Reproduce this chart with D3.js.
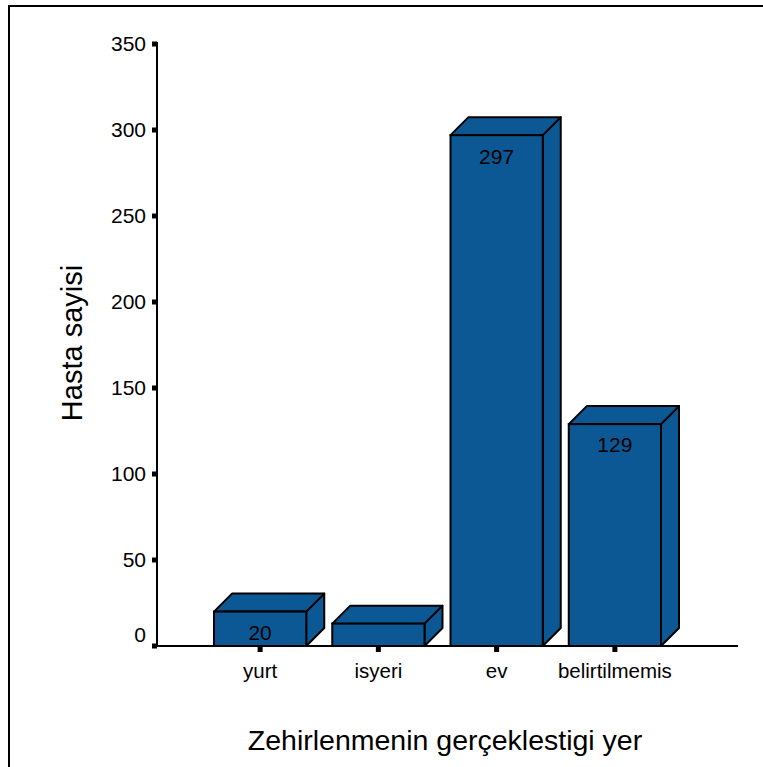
<!DOCTYPE html>
<html>
<head>
<meta charset="utf-8">
<script src="https://cdn.jsdelivr.net/npm/d3@7"></script>
<style>
  body { margin: 0; background: #fff; }
  svg { display: block; font-family: Arial, "Liberation Sans", sans-serif; }
</style>
</head>
<body>
<svg id="chart" width="763" height="767"></svg>
<script>
// Places where the poisoning occurred and patient counts
const categories = ["yurt", "isyeri", "ev", "belirtilmemis"];
const patients = [20, 13, 297, 129];
const shownValues = ["20", "", "297", "129"];
const yTicks = [0, 50, 100, 150, 200, 250, 300, 350];
const yTitle = "Hasta sayisi";
const xTitle = "Zehirlenmenin gerçeklestigi yer";

const svg = d3.select("#chart");
const barColor = "#0b5895";
const depth = 18;

// outer frame
svg.append("path")
  .attr("d", "M9,767 L9,6 L763,6")
  .attr("fill", "none").attr("stroke", "#000").attr("stroke-width", 2);

const y = d3.scaleLinear().domain([0, 350]).range([646, 44]);
const x = d3.scaleBand().domain(categories).range([201, 674])
  .paddingInner(0.22).paddingOuter(0.11);

// bars with a top and side face for depth
const bars = svg.append("g").selectAll("g").data(categories).join("g");
bars.each(function (c, i) {
  const g = d3.select(this);
  const x0 = x(c), x1 = x(c) + x.bandwidth();
  const yt = y(patients[i]), yb = y(0);
  g.append("path")
    .attr("d", `M${x1},${yb} L${x1 + depth},${yb - depth} L${x1 + depth},${yt - depth} L${x1},${yt} Z`)
    .attr("fill", barColor).attr("stroke", "#000").attr("stroke-width", 2).attr("stroke-linejoin", "round");
  g.append("path")
    .attr("d", `M${x0},${yt} L${x0 + depth},${yt - depth} L${x1 + depth},${yt - depth} L${x1},${yt} Z`)
    .attr("fill", barColor).attr("stroke", "#000").attr("stroke-width", 2).attr("stroke-linejoin", "round");
  g.append("rect")
    .attr("x", x0).attr("y", yt).attr("width", x.bandwidth()).attr("height", yb - yt)
    .attr("fill", barColor).attr("stroke", "#000").attr("stroke-width", 2);
  if (shownValues[i]) {
    g.append("text")
      .attr("x", x0 + x.bandwidth() / 2).attr("y", yt + 21).attr("dy", "0.35em")
      .attr("text-anchor", "middle").attr("font-size", 21).attr("fill", "#000")
      .text(shownValues[i]);
  }
});

// y axis
const yAxis = svg.append("g");
yAxis.append("line").attr("x1", 157).attr("x2", 157).attr("y1", y(350) - 2).attr("y2", y(0) + 1)
  .attr("stroke", "#000").attr("stroke-width", 2);
yAxis.selectAll("rect.tick").data(yTicks).join("rect")
  .attr("x", 152).attr("y", d => y(d) - 2.5).attr("width", 5).attr("height", 5).attr("fill", "#000");
yAxis.selectAll("text").data(yTicks).join("text")
  .attr("x", 146).attr("y", d => y(d) + (d === 0 ? -11 : 0)).attr("dy", "0.35em")
  .attr("text-anchor", "end").attr("font-size", 21).attr("fill", "#000")
  .text(d => d);

// x axis
const xAxis = svg.append("g");
xAxis.append("line").attr("x1", 156).attr("x2", 738).attr("y1", y(0)).attr("y2", y(0))
  .attr("stroke", "#000").attr("stroke-width", 2);
xAxis.selectAll("rect").data(categories).join("rect")
  .attr("x", d => x(d) + x.bandwidth() / 2 - 2.5).attr("y", y(0)).attr("width", 5).attr("height", 6).attr("fill", "#000");
xAxis.selectAll("text").data(categories).join("text")
  .attr("x", d => x(d) + x.bandwidth() / 2).attr("y", 671).attr("dy", "0.35em")
  .attr("text-anchor", "middle").attr("font-size", 20.5).attr("fill", "#000")
  .text(d => d);

// axis titles
svg.append("text")
  .attr("transform", "translate(72,343) rotate(-90)").attr("dy", "0.35em")
  .attr("text-anchor", "middle").attr("font-size", 29).attr("fill", "#000")
  .text(yTitle);
svg.append("text")
  .attr("x", 445).attr("y", 740).attr("dy", "0.35em")
  .attr("text-anchor", "middle").attr("font-size", 28.5).attr("fill", "#000")
  .text(xTitle);
</script>
</body>
</html>
